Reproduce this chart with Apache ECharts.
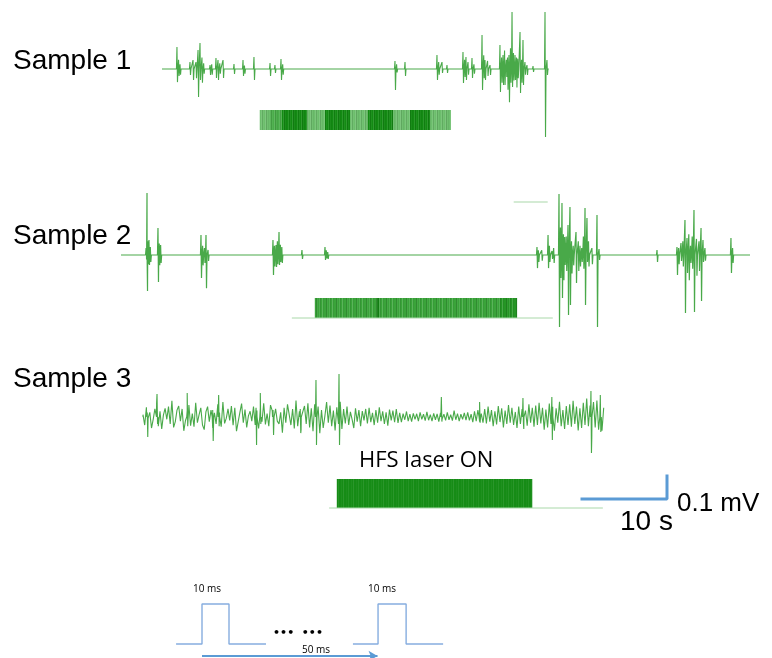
<!DOCTYPE html>
<html><head><meta charset="utf-8">
<script src="https://cdn.jsdelivr.net/npm/echarts@6/dist/echarts.min.js"></script>
<style>html,body{margin:0;padding:0;background:#fff}#c{width:772px;height:658px}</style>
</head><body><div id="c"></div>
<script>
// ---------------- DATA ----------------
const sampleLabels = ['Sample 1', 'Sample 2', 'Sample 3'];
// recording durations (s)
const traceDur = [45.5, 74, 54.2];
// spikes: [time (s), positive peak (µV), negative peak (µV)]
const spikes1 = [
  [1.76,96,57],[1.95,40,30],[2.12,20,25],[3.29,30,26],[3.65,39,48],[4.0,30,40],[4.24,83,122],
  [4.47,113,48],[4.7,50,60],[4.9,25,20],[5.65,17,26],[5.85,20,25],
  [6.35,48,39],[6.59,39,48],[6.8,25,20],[7.18,39,39],[8.47,22,22],[9.53,39,30],[9.7,15,20],[10.82,52,48],
  [12.71,26,30],[13.29,17,17],[14.0,43,48],[14.2,20,25],[27.41,35,91],[27.6,20,15],[28.59,30,30],[32.35,61,48],
  [32.55,30,25],[32.94,30,17],[33.53,17,17],[35.41,74,61],[35.6,40,35],[35.76,52,48],[36.0,30,25],[36.47,48,39],
  [36.7,20,20],[37.65,148,91],[37.85,60,40],[38.0,39,48],[38.3,35,30],[38.59,17,26],[39.76,104,100],[39.95,50,60],
  [40.12,61,70],[40.3,80,70],[40.5,40,35],[40.65,50,90],[40.82,61,144],[41.0,90,60],
  [41.18,248,78],[41.35,70,50],[41.53,61,48],[41.7,50,80],[41.85,45,40],[42.12,161,104],[42.3,40,60],
  [42.47,126,70],[42.7,30,25],[42.94,17,26],[43.65,13,13],[45.06,248,296],[45.29,39,26]
];
const spikes2 = [
  [2.95,30,20],[3.06,270,157],[3.15,60,40],[3.29,65,43],[3.45,35,30],[4.35,117,117],[4.5,50,45],[4.66,43,35],
  [9.41,87,100],[9.6,40,45],[9.82,30,35],[10.0,87,144],[10.24,22,26],[17.88,65,87],[18.05,40,50],[18.24,43,52],
  [18.4,60,40],[18.59,100,43],[18.75,45,30],[18.92,35,35],[21.29,22,17],[24.0,35,22],[24.15,20,15],[24.32,13,17],
  [48.94,35,57],[49.1,20,30],[49.5,20,25],[50.24,87,57],[50.4,40,30],[50.71,17,17],[50.9,30,35],
  [51.53,265,313],[51.7,120,100],[51.88,226,187],[52.05,90,110],[52.2,78,43],[52.38,80,70],[52.59,130,261],
  [52.82,209,217],[53.0,60,80],[53.2,40,45],[53.53,100,122],[53.8,60,70],[54.0,40,50],[54.2,30,30],[54.4,80,60],
  [54.59,204,217],[54.82,161,30],[55.0,60,50],[55.4,30,40],[56.0,174,313],[56.24,26,22],[63.06,22,30],
  [65.41,35,87],[65.6,30,40],[65.88,52,26],[66.1,60,50],[66.35,152,252],[66.59,74,78],[66.8,90,110],
  [67.0,40,35],[67.2,80,60],[67.41,196,248],[67.7,70,90],[68.0,60,70],[68.24,117,200],[68.47,65,30],
  [68.7,30,25],[71.76,74,78],[71.95,30,35]
];
const spikes3 = [
  [0.5,20,87],[1.65,100,30],[5.2,104,40],[8.2,30,104],[8.9,96,40],[13.3,40,122],
  [13.8,104,30],[15.3,30,78],[18.5,35,70],[20.35,161,122],[23.06,187,122],[35.1,87,20],
  [39.6,65,25],[44.7,83,30],[48.1,87,100],[52.7,113,157],[53.8,96,65]
];
// background activity of sample 3, one value every 0.2 s (µV)
const noise3Step = 0.2;
const noise3 = [
  10,-35,42,-5,20,-48,-10,35,60,-40,
  25,-52,8,38,-10,45,-30,70,-45,-20,
  30,48,-18,35,-60,-15,28,52,-38,15,
  -42,62,-25,10,40,-35,-55,22,45,-20,
  30,-48,18,-30,55,20,-42,65,-28,-5,
  35,-15,48,-36,40,-62,-20,20,58,-25,
  32,-45,5,25,-18,45,-35,28,-50,38,
  -20,60,-32,15,-40,52,28,-28,35,-18,
  -30,20,-68,40,-25,55,10,-35,35,-50,
  72,-40,25,-55,-5,48,-30,60,-45,38,
  -62,55,-20,45,-70,30,-48,5,65,-25,
  50,-40,28,-58,42,-30,66,-52,35,-28,
  45,-35,22,-10,-48,38,-20,30,-40,26,
  -15,35,-28,40,-22,18,-35,30,-25,42,
  -18,25,-30,20,-38,32,-15,28,-22,35,
  -26,18,-22,15,-12,24,-18,12,-20,16,
  -10,14,-18,20,-10,12,-16,22,-14,10,
  -18,16,-12,14,-20,18,-8,12,-15,20,
  -12,10,-16,28,-12,15,-18,12,-10,18,
  -14,20,-15,12,-22,25,-18,30,-20,15,
  -25,35,-28,45,-20,30,-40,25,-32,48,
  -22,38,-45,28,-30,52,-25,40,-35,22,
  -48,45,-30,35,-52,28,-38,55,-25,40,
  -42,50,-35,62,-28,40,-55,32,-45,58,
  -30,45,-60,38,-25,66,-40,30,-52,48,
  -35,55,-42,70,-30,45,-58,38,-48,62,
  -35,80,-40,50,-90,65,-45,72,-55,85,
  -60,40
];
// laser stimulation (s)
const laserOn = [11.5, 22.8, 22.8];
const laserOff = [34.0, 46.6, 45.8];
const laserBaseFrom = [null, 20.1, 21.9];
const laserBaseTo = [null, 50.8, 54.1];
const laserMarkFrom = 46.2, laserMarkTo = 50.2, laserMarkLevel = 5.8; // stray level line, sample 2
const laserLabel = 'HFS laser ON';
// scale bar
const scaleTime = 10;      // s
const scaleVolt = 100;     // µV
const scaleLabels = ['10 s', '0.1 mV'];
// pulse schematic (ms)
const pulseOn = [0, 65.2];
const pulseOff = [10, 75.6];
const pulseBaseFrom = [-9.6, 55.9];
const pulseBaseTo = [23.7, 89.3];
const pulseArrow = [0, 65];
const pulseLabels = ['10 ms', '10 ms', '50 ms'];

// ---------------- LAYOUT / STYLE ----------------
const PX_PER_S = 8.5, PX_PER_UV = 0.23, Y_RANGE = 300;
const traceLeft = [162, 121, 143];
const traceBase = [69, 255, 417];
const laserTop = [110, 298, 479];
const laserHeight = [20, 20, 29];
const traceWidth = [1.1, 1.2, 1.1];
const traceColor = '#35a035';
const blue = '#5b9bd5';

function hexToRgb(h){h=h.replace('#','');return [0,2,4].map(i=>parseInt(h.substr(i,2),16));}
function shade(hex,f){const c=hexToRgb(hex);const r=c.map(v=>Math.round(f>=0?v+(255-v)*f:v*(1+f)));return 'rgb('+r.join(',')+')';}
function stripeGradient(width, bands, tex){
  const stops=[];
  for(let c=0;c<width;c++){
    let col=bands[0][2];
    bands.forEach(b=>{if(c>=b[0]&&c<b[1])col=b[2];});
    const color=shade(col,tex[c%tex.length]);
    stops.push({offset:c/width,color},{offset:(c+1)/width,color});
  }
  return {type:'linear',x:0,y:0,x2:1,y2:0,colorStops:stops};
}
const D='#138b13', L='#6cbe6c', M='#4aad4a';
const laserFill = [
  stripeGradient(191, [[0,10,L],[10,22,M],[22,47,D],[47,65,L],[65,90,D],[90,108,L],[108,133,D],[133,150,L],[150,170,D],[170,191,L]], [0,0.1,-0.1,0.05,0,0.12,-0.12,0.03,-0.05]),
  stripeGradient(202, [[0,185,'#3aa43a'],[185,202,'#259625'],[62,64,'#137d13']], [0,-0.15,0.06,0,0.12,-0.1,0,0.16,-0.05,0]),
  stripeGradient(195, [[0,195,'#168c16']], [0,0.07,0,0,0.04,0,0.09,0,0,0.03])
];

function buildTrace(spikes, noise, step, dur){
  const pts=[[0,0]];
  if(noise) noise.forEach((v,i)=>pts.push([+(i*step).toFixed(3),v]));
  spikes.forEach(([t,u,d])=>{pts.push([t-0.06,0],[t,u],[t+0.06,-d],[t+0.12,0]);});
  if(!noise) pts.push([dur,0]);
  pts.sort((a,b)=>a[0]-b[0]);
  return pts;
}
const traces=[buildTrace(spikes1,null,0,traceDur[0]),buildTrace(spikes2,null,0,traceDur[1]),buildTrace(spikes3,noise3,noise3Step,traceDur[2])];

const grid=[],xAxis=[],yAxis=[],series=[];
function addGrid(g,xmin,xmax,ymin,ymax){
  g.outerBoundsMode='none'; grid.push(g);
  const k=grid.length-1;
  xAxis.push({gridIndex:k,type:'value',min:xmin,max:xmax,show:false});
  yAxis.push({gridIndex:k,type:'value',min:ymin,max:ymax,show:false});
  return k;
}
const base={type:'line',symbol:'none',showSymbol:false,animation:false,silent:true,clip:false};
for(let i=0;i<3;i++){
  const w=traceDur[i]*PX_PER_S;
  const kt=addGrid({left:traceLeft[i],top:traceBase[i]-Y_RANGE*PX_PER_UV,width:w,height:2*Y_RANGE*PX_PER_UV},0,traceDur[i],-Y_RANGE,Y_RANGE);
  series.push(Object.assign({},base,{xAxisIndex:kt,yAxisIndex:kt,data:traces[i],lineStyle:{width:traceWidth[i],color:traceColor,opacity:0.9}}));
  const kl=addGrid({left:traceLeft[i],top:laserTop[i],width:w,height:laserHeight[i]},0,traceDur[i],0,1);
  if(laserBaseFrom[i]!==null){
    series.push(Object.assign({},base,{xAxisIndex:kl,yAxisIndex:kl,data:[[laserBaseFrom[i],0],[laserBaseTo[i],0]],lineStyle:{width:1,color:'#a9d8a9'}}));
  }
  if(i===1){
    series.push(Object.assign({},base,{xAxisIndex:kl,yAxisIndex:kl,data:[[laserMarkFrom,laserMarkLevel],[laserMarkTo,laserMarkLevel]],lineStyle:{width:1.2,color:'#a9d8a9'}}));
  }
  series.push(Object.assign({},base,{xAxisIndex:kl,yAxisIndex:kl,data:[[laserOn[i],0],[laserOn[i],1],[laserOff[i],1],[laserOff[i],0]],lineStyle:{width:0},areaStyle:{color:laserFill[i],opacity:1}}));
}
// scale bar grid
const ks=addGrid({left:582,top:499-scaleVolt*PX_PER_UV,width:scaleTime*PX_PER_S,height:scaleVolt*PX_PER_UV},0,scaleTime,0,scaleVolt);
series.push(Object.assign({},base,{xAxisIndex:ks,yAxisIndex:ks,data:[[0,0],[scaleTime,0],[scaleTime,scaleVolt]],lineStyle:{width:3,color:blue,cap:'square'}}));
// pulse schematic grid: 2.7 px per ms, 40 px per unit
const kp=addGrid({left:202-10*2.7,top:604,width:100*2.7,height:56},-10,90,-0.4,1);
for(let j=0;j<2;j++){
  const s=Object.assign({},base,{xAxisIndex:kp,yAxisIndex:kp,
    data:[[pulseBaseFrom[j],0],[pulseOn[j],0],[pulseOn[j],1],[pulseOff[j],1],[pulseOff[j],0],[pulseBaseTo[j],0]],
    lineStyle:{width:1.4,color:'#86addf'}});
  if(j===0){
    s.markLine={silent:true,symbol:['none','arrow'],symbolSize:[8,9],animation:false,label:{show:false},
      lineStyle:{color:blue,width:2,type:'solid'},
      data:[[{coord:[pulseArrow[0],-0.3]},{coord:[pulseArrow[1],-0.3]}]]};
  }
  series.push(s);
}

function txt(text,x,y,font,align){
  return {type:'text',x,y,silent:true,style:{text,font,fill:'#000',align:align||'left',verticalAlign:'middle',textAlign:align||'left',textVerticalAlign:'middle'}};
}
const SANS='"Liberation Sans", Arial, sans-serif';
const graphic=[
  txt(sampleLabels[0],13,61,'28px '+SANS),
  txt(sampleLabels[1],13,236,'28px '+SANS),
  txt(sampleLabels[2],13,379,'28px '+SANS),
  txt(laserLabel,359,461,'22px "Open Sans", sans-serif'),
  txt(scaleLabels[0],620,522,'28px '+SANS),
  txt(scaleLabels[1],677,504,'26px '+SANS),
  txt(pulseLabels[0],207,589,'10px "Open Sans", sans-serif','center'),
  txt(pulseLabels[1],382,589,'10px "Open Sans", sans-serif','center'),
  txt(pulseLabels[2],316,650,'10px "Open Sans", sans-serif','center'),
  txt('\u2022\u2022\u2022  \u2022\u2022\u2022',298,633,'bold 11px "DejaVu Sans", sans-serif','center')
];

const chart=echarts.init(document.getElementById('c'));
chart.setOption({animation:false,backgroundColor:'#fff',grid,xAxis,yAxis,series,graphic});
</script>
</body></html>
